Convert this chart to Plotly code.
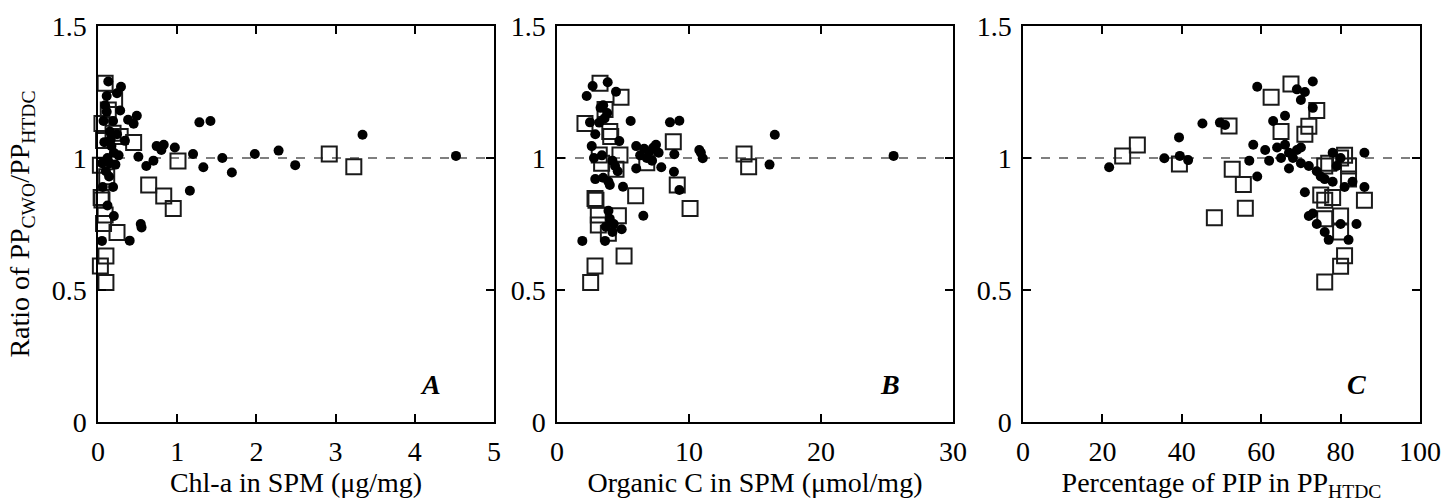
import plotly.graph_objects as go

# ---------------- data ----------------
REF_LEVEL = 1.0

# Panel A: Chl-a in SPM (ug/mg)
a_circ_x = [0.13, 0.29, 0.11, 0.24, 0.09, 0.11, 0.28, 0.49, 0.38, 0.45, 0.07, 0.19, 1.28, 1.42,
            0.15, 0.34, 0.24, 0.74, 0.83, 0.80, 0.97, 0.17, 0.20, 0.26, 0.12, 0.05, 0.15, 0.22,
            0.51, 0.70, 0.61, 1.20, 1.33, 1.57, 1.69, 1.98, 2.28, 2.49, 3.34, 4.52, 1.16, 0.14,
            0.19, 0.06, 0.12, 0.20, 0.54, 0.55, 0.40, 0.05, 0.10, 0.08, 0.16]
a_circ_y = [1.29, 1.27, 1.235, 1.245, 1.20, 1.175, 1.18, 1.16, 1.145, 1.13, 1.14, 1.14, 1.135, 1.14,
            1.10, 1.065, 1.09, 1.045, 1.05, 1.03, 1.04, 1.045, 1.02, 1.01, 1.00, 0.98, 0.98, 0.975,
            1.005, 0.99, 0.97, 1.015, 0.965, 1.00, 0.945, 1.015, 1.028, 0.973, 1.088, 1.008, 0.876, 0.93,
            0.89, 0.89, 0.82, 0.78, 0.75, 0.737, 0.687, 0.686, 0.95, 1.06, 1.07]
a_sq_x = [0.09, 0.21, 0.13, 0.05, 0.19, 0.28, 0.45, 0.07, 1.01, 0.03, 0.11, 0.64, 0.83, 0.95,
          0.05, 0.09, 0.07, 0.24, 0.10, 0.03, 0.10, 2.92, 3.23, 0.04]
a_sq_y = [1.283, 1.222, 1.182, 1.131, 1.094, 1.081, 1.059, 1.066, 0.989, 0.973, 0.929, 0.898, 0.856, 0.809,
          0.841, 0.784, 0.752, 0.718, 0.629, 0.591, 0.528, 1.015, 0.967, 0.85]

# Panel B: Organic C in SPM (umol/mg)
b_circ_x = [2.70, 3.84, 2.25, 4.47, 3.3, 3.8, 3.5, 3.6, 2.5, 3.2, 2.9, 5.58, 8.56, 9.27, 4.72, 2.63,
            6.0, 6.6, 7.5, 7.0, 7.7, 6.3, 6.8, 7.2, 7.9, 6.0, 7.3, 8.89, 10.78, 11.04, 2.8, 3.4, 4.2,
            4.4, 4.6, 8.86, 9.27, 2.9, 3.5, 3.9, 4.0, 5.0, 6.54, 3.9, 4.0, 4.3, 4.9, 3.7, 4.2, 1.92,
            3.64, 16.5, 16.1, 25.5, 10.9]
b_circ_y = [1.273, 1.287, 1.235, 1.251, 1.19, 1.17, 1.20, 1.15, 1.135, 1.134, 1.09, 1.14, 1.135, 1.141,
            1.064, 1.045, 1.045, 1.035, 1.05, 1.025, 1.02, 1.01, 1.00, 0.99, 0.965, 0.96, 1.04, 1.014,
            1.03, 0.999, 1.00, 1.01, 0.99, 0.97, 0.95, 0.948, 0.879, 0.92, 0.925, 0.91, 0.898, 0.891,
            0.781, 0.80, 0.77, 0.75, 0.73, 0.74, 0.72, 0.686, 0.686, 1.088, 0.975, 1.008, 1.02]
b_sq_x = [3.26, 4.85, 3.64, 2.12, 4.0, 4.07, 8.81, 3.2, 4.77, 3.38, 4.47, 6.8, 9.11, 5.96, 2.88,
          2.95, 10.08, 4.65, 3.13, 3.13, 3.89, 5.08, 2.88, 2.55, 14.17, 14.52]
b_sq_y = [1.283, 1.23, 1.184, 1.131, 1.10, 1.081, 1.062, 1.011, 1.011, 0.98, 0.957, 0.982, 0.898, 0.857,
          0.847, 0.84, 0.809, 0.781, 0.784, 0.746, 0.715, 0.629, 0.591, 0.528, 1.015, 0.967]

# Panel C: Percentage of PIP in PP_HTDC
c_circ_x = [21.7, 35.6, 39.3, 39.5, 41.6, 45.2, 49.6, 50.9, 59, 69, 71, 73, 70, 73, 66, 63, 58, 61,
            64, 66, 67, 68, 69, 70, 72, 74, 75, 76, 78, 81, 86, 83, 86, 80, 59, 62, 57, 71, 72, 73,
            74, 76, 77, 80, 82, 84, 65, 67, 70, 78, 79]
c_circ_y = [0.965, 0.999, 1.078, 1.008, 0.992, 1.131, 1.134, 1.125, 1.27, 1.26, 1.25, 1.29, 1.22, 1.19,
            1.16, 1.14, 1.05, 1.03, 1.04, 1.05, 1.02, 1.00, 1.03, 0.98, 0.97, 0.95, 0.93, 0.92, 0.91,
            0.89, 0.89, 0.91, 1.02, 1.00, 0.93, 0.99, 0.99, 0.87, 0.78, 0.79, 0.75, 0.72, 0.69, 0.75,
            0.69, 0.75, 1.00, 0.96, 1.04, 1.02, 0.97]
c_sq_x = [25.1, 28.8, 39.4, 51.9, 52.7, 48.2, 55.5, 56, 62.5, 67.5, 72, 71, 74, 65, 76, 77, 80, 82, 81,
          82, 78, 75, 76, 76, 80, 80, 81, 80, 76, 86]
c_sq_y = [1.008, 1.049, 0.977, 1.121, 0.957, 0.774, 0.90, 0.81, 1.23, 1.28, 1.12, 1.09, 1.18, 1.10,
          0.97, 0.98, 1.00, 0.97, 1.01, 0.92, 0.85, 0.86, 0.84, 0.77, 0.78, 0.72, 0.63, 0.59, 0.53, 0.84]

x_titles = ["Chl-a in SPM (\u03bcg/mg)", "Organic C in SPM (\u03bcmol/mg)",
            "Percentage of PIP in PP<sub>HTDC</sub>"]
x_ranges = [[0, 5], [0, 30], [0, 100]]
x_dticks = [1, 10, 20]
panel_letters = ["A", "B", "C"]
y_tickvals = [0, 0.5, 1, 1.5]
y_ticktext = ["0", "0.5", "1", "1.5"]
y_title = "Ratio of PP<sub>CWO</sub>/PP<sub>HTDC</sub>"

# ---------------- layout constants ----------------
W, H = 1444, 504
x_px = [(98, 494), (557, 953), (1023, 1420)]
y_px = (26, 422)
FONT = "Liberation Serif, Times New Roman, serif"

fig = go.Figure()
panels = [(a_circ_x, a_circ_y, a_sq_x, a_sq_y),
          (b_circ_x, b_circ_y, b_sq_x, b_sq_y),
          (c_circ_x, c_circ_y, c_sq_x, c_sq_y)]

for i, (cx, cy, sx, sy) in enumerate(panels):
    xa = "x" if i == 0 else f"x{i+1}"
    ya = "y" if i == 0 else f"y{i+1}"
    fig.add_trace(go.Scatter(x=sx, y=sy, mode="markers", xaxis=xa, yaxis=ya,
                             marker=dict(symbol="square-open", size=15, color="#1a1a1a",
                                         line=dict(width=2, color="#1a1a1a")),
                             cliponaxis=False, showlegend=False))
    fig.add_trace(go.Scatter(x=cx, y=cy, mode="markers", xaxis=xa, yaxis=ya,
                             marker=dict(symbol="circle", size=10, color="black"),
                             cliponaxis=False, showlegend=False))
    fig.add_shape(type="line", xref=f"{xa} domain", yref=ya, x0=0, x1=1,
                  y0=REF_LEVEL, y1=REF_LEVEL,
                  line=dict(color="#555555", width=1.5, dash="dash"), layer="below")
    fig.add_annotation(text=f"<b><i>{panel_letters[i]}</i></b>", xref=f"{xa} domain",
                       yref=f"{ya} domain", x=0.84, y=0.095, showarrow=False,
                       xanchor="center", yanchor="middle",
                       font=dict(family=FONT, size=28, color="black"))

    x0, x1 = x_px[i]
    axis_common = dict(showline=True, linecolor="black", linewidth=1.5, mirror="ticks",
                       ticks="inside", ticklen=8, tickwidth=1.5, tickcolor="black",
                       showgrid=False, zeroline=False, automargin=False,
                       ticklabelstandoff=4,
                       tickfont=dict(family=FONT, size=28, color="black"))
    xkey = "xaxis" if i == 0 else f"xaxis{i+1}"
    ykey = "yaxis" if i == 0 else f"yaxis{i+1}"
    fig.update_layout({
        xkey: dict(domain=[x0 / W, x1 / W], range=x_ranges[i], dtick=x_dticks[i], tick0=0,
                   anchor=ya, title=dict(text=x_titles[i], standoff=4,
                                         font=dict(family=FONT, size=28, color="black")),
                   **axis_common),
        ykey: dict(domain=[(H - y_px[1]) / H, (H - y_px[0]) / H], range=[0, 1.5],
                   tickvals=y_tickvals, ticktext=y_ticktext, anchor=xa,
                   title=dict(text=y_title if i == 0 else "", standoff=14,
                              font=dict(family=FONT, size=28, color="black")),
                   **axis_common),
    })

fig.update_layout(width=W, height=H, margin=dict(l=0, r=0, t=0, b=0),
                  paper_bgcolor="white", plot_bgcolor="white", template="none",
                  font=dict(family=FONT, color="black"))

# remove the browser's default 8px body margin so the figure sits at the page origin
fig.write_html("out.html", config={"displayModeBar": False},
               post_script="document.body.style.margin='0';document.body.style.overflow='hidden';")
